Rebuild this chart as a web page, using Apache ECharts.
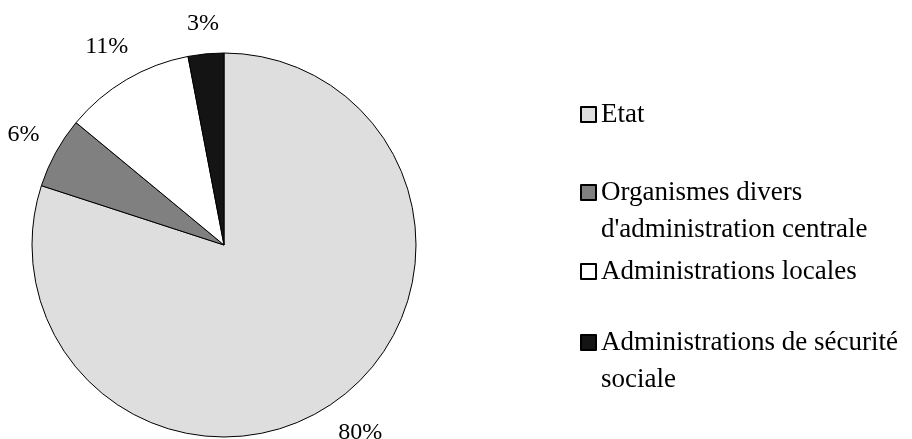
<!DOCTYPE html>
<html>
<head>
<meta charset="utf-8">
<script src="https://cdn.jsdelivr.net/npm/echarts@6/dist/echarts.min.js"></script>
<style>html,body{margin:0;padding:0;background:#fff}#c{width:912px;height:439px}</style>
</head>
<body>
<div id="c"></div>
<script>
const categories = ["Etat", "Organismes divers\nd'administration centrale", "Administrations locales", "Administrations de sécurité\nsociale"];
const values = [80, 6, 11, 3];
const colors = ["#dedede", "#808080", "#ffffff", "#141414"];

const FONT = "Liberation Serif";
const CX = 224, CY = 245, R = 192, GAP = 17;
const LH = 37;
const total = values.reduce((a, b) => a + b, 0);

const legendTops = [96, 137, 253, 287];
const legends = categories.map((name, i) => {
  const twoLines = name.indexOf("\n") >= 0;
  return {
    data: [name],
    left: 580,
    top: legendTops[i],
    padding: 0,
    itemWidth: 15,
    itemHeight: 15,
    icon: "rect",
    selectedMode: false,
    formatter: n => (twoLines ? "\n" + n : n),
    textStyle: {fontFamily: FONT, fontSize: 27, color: "#000", lineHeight: LH}
  };
});

const chart = echarts.init(document.getElementById("c"), null, {renderer: "canvas"});
chart.setOption({
  animation: false,
  backgroundColor: "#fff",
  legend: legends,
  series: [{
    type: "pie",
    center: [CX, CY],
    radius: R,
    startAngle: 90,
    clockwise: true,
    avoidLabelOverlap: false,
    itemStyle: {borderColor: "#000", borderWidth: 1},
    emphasis: {disabled: true},
    label: {
      show: true, position: "outside", formatter: "{d}%",
      fontFamily: FONT, fontSize: 24, color: "#000"
    },
    labelLine: {show: false},
    labelLayout: function (p) {
      const i = p.dataIndex;
      let cum = 0;
      for (let k = 0; k < i; k++) cum += values[k];
      cum += values[i] / 2;
      const a = cum / total * Math.PI * 2;
      const dx = Math.sin(a), dy = -Math.cos(a);
      const w = p.labelRect.width, h = p.labelRect.height;
      const ext = w / 2 * Math.abs(dx) + h / 2 * Math.abs(dy);
      const d = R + GAP + ext;
      return {x: CX + dx * d, y: CY + dy * d, align: "center", verticalAlign: "middle"};
    },
    data: categories.map((n, i) => ({name: n, value: values[i], itemStyle: {color: colors[i]}}))
  }]
});
</script>
</body>
</html>
